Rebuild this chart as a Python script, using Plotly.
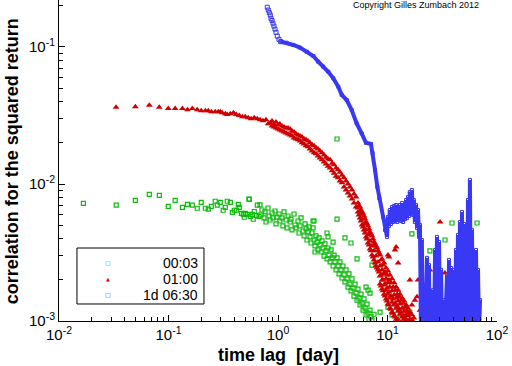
import plotly.graph_objects as go

# ---------------- data (time lag [day], correlation) ----------------
series_names = ["00:03", "01:00", "1d 06:30"]

green_points = [
    (0.0167, 0.00723), (0.0333, 0.0070), (0.0498, 0.0076), (0.0668, 0.0084), (0.0824, 0.00827),
    (0.0995, 0.00687), (0.115, 0.0076), (0.134, 0.00676), (0.149, 0.0071), (0.165, 0.0070),
    (0.183, 0.00665), (0.199, 0.00734), (0.217, 0.00665), (0.231, 0.00655), (0.246, 0.00687),
    (0.267, 0.00748), (0.279, 0.0070), (0.297, 0.00734), (0.316, 0.00643), (0.330, 0.00676),
    (0.344, 0.00748), (0.367, 0.00734), (0.383, 0.00621), (0.399, 0.00643), (0.416, 0.00643),
    (0.434, 0.0071), (0.443, 0.00676), (0.462, 0.0061), (0.482, 0.0060), (0.492, 0.00572),
    (0.502, 0.0061), (0.524, 0.0060), (0.547, 0.00773), (0.558, 0.0058), (0.582, 0.0060),
    (0.594, 0.00553), (0.607, 0.0063), (0.634, 0.0059), (0.647, 0.0070), (0.670, 0.0058),
    (0.685, 0.00703), (0.700, 0.00594), (0.714, 0.00646), (0.745, 0.00565), (0.761, 0.00625),
    (0.777, 0.00528), (0.810, 0.00668), (0.828, 0.00584), (0.845, 0.00546), (0.882, 0.00614),
    (0.900, 0.00565), (0.939, 0.00635), (0.959, 0.00511), (0.979, 0.00574), (1.021, 0.00604),
    (1.04, 0.00537), (1.088, 0.00565), (1.11, 0.00494), (1.135, 0.00625), (1.184, 0.00546),
    (1.209, 0.00478), (1.235, 0.00584), (1.29, 0.00528), (1.315, 0.00555), (1.343, 0.00462),
    (1.401, 0.00604), (1.43, 0.00502), (1.461, 0.00478), (1.524, 0.00537), (1.556, 0.00439),
    (1.59, 0.00494), (1.623, 0.00565), (1.693, 0.00454), (1.729, 0.00418), (1.765, 0.00511),
    (1.803, 0.00470), (1.841, 0.00390), (1.881, 0.00447), (1.921, 0.00486), (1.96, 0.00411),
    (2.003, 0.00371), (2.046, 0.00439), (2.09, 0.00478), (2.134, 0.00390), (2.177, 0.00353),
    (2.225, 0.00418), (2.272, 0.00377), (2.32, 0.00330), (2.37, 0.00404), (2.42, 0.00359),
    (2.472, 0.00319), (2.524, 0.00384), (2.578, 0.00341), (2.633, 0.00298), (2.687, 0.00365),
    (2.746, 0.00325), (2.805, 0.00284), (2.864, 0.00341), (2.925, 0.00303), (2.99, 0.00270),
    (3.053, 0.00330), (3.118, 0.00289), (3.184, 0.00252), (3.252, 0.00303), (3.315, 0.00270),
    (3.39, 0.00236), (3.46, 0.00289), (3.54, 0.00252), (3.61, 0.00221), (3.68, 0.00270),
    (3.76, 0.00236), (3.84, 0.00206), (3.92, 0.00252), (4.01, 0.00217), (4.09, 0.00193),
    (4.18, 0.00236), (4.27, 0.00203), (4.36, 0.00177), (4.45, 0.00221), (4.54, 0.00186),
    (4.64, 0.00166), (4.74, 0.00203), (4.84, 0.00174), (4.94, 0.00152), (5.05, 0.00186),
    (5.16, 0.00160), (5.27, 0.00142), (5.38, 0.00171), (5.49, 0.00147), (5.61, 0.00131),
    (5.73, 0.00157), (5.85, 0.00135), (5.98, 0.00120), (6.10, 0.00145), (6.23, 0.00124),
    (6.37, 0.00111), (6.50, 0.00133), (6.64, 0.00114), (6.78, 0.00103), (6.92, 0.00120),
    (7.07, 0.00107), (7.22, 0.00102), (7.53, 0.00112),
    (0.543, 0.00777), (3.46, 0.00555), (2.134, 0.00537), (4.09, 0.00404), (4.64, 0.00371),
    (5.27, 0.00284), (6.37, 0.00177), (6.64, 0.00168), (7.22, 0.00256), (6.92, 0.0016),
    (16.7, 0.00432), (24.4, 0.00325), (33.5, 0.0039), (38.8, 0.00519), (65.7, 0.00519),
    (8.55, 0.00116), (10.1, 0.00126), (11.0, 0.00111), (3.46, 0.0213), (13.0, 0.00105),
    (16.0, 0.00116), (22.0, 0.00109), (30.2, 0.00142), (41.3, 0.00105), (54.3, 0.00131),
    (59.1, 0.00105), (27.7, 0.00105), (2.805, 0.00439), (2.864, 0.00411), (2.177, 0.00319),
    (2.09, 0.00537), (3.184, 0.00377),
]

red_points = [
    (0.0332, 0.0363), (0.0498, 0.0366), (0.0668, 0.0375), (0.0824, 0.0363), (0.0995, 0.0355),
    (0.115, 0.0355), (0.134, 0.0355), (0.149, 0.0348), (0.165, 0.0355), (0.183, 0.0348),
    (0.199, 0.0343), (0.217, 0.0343), (0.231, 0.0343), (0.246, 0.0337), (0.267, 0.0337),
    (0.285, 0.0337), (0.297, 0.0337), (0.309, 0.0331), (0.330, 0.0326), (0.344, 0.0321),
    (0.367, 0.0326), (0.392, 0.0331), (0.416, 0.0321), (0.443, 0.0316), (0.473, 0.0310),
    (0.502, 0.0310), (0.534, 0.0305), (0.568, 0.0300), (0.607, 0.0305), (0.647, 0.0300),
    (0.686, 0.0295), (0.730, 0.0290), (0.777, 0.0295), (0.814, 0.0275), (0.852, 0.0280),
    (0.882, 0.0288), (0.882, 0.0265), (0.919, 0.0274), (0.919, 0.0261), (0.959, 0.0283),
    (0.959, 0.0256), (1.000, 0.0270), (1.000, 0.0252), (1.04, 0.0274), (1.04, 0.0248),
    (1.088, 0.0265), (1.088, 0.0244), (1.135, 0.0261), (1.135, 0.0240), (1.184, 0.0256),
    (1.184, 0.0236), (1.235, 0.0256), (1.235, 0.0232), (1.29, 0.0252), (1.29, 0.0228),
    (1.343, 0.0244), (1.343, 0.0224), (1.401, 0.0240), (1.401, 0.0217), (1.461, 0.0232),
    (1.461, 0.0213), (1.524, 0.0228), (1.524, 0.0210), (1.59, 0.0224), (1.59, 0.0206),
    (1.658, 0.0220), (1.658, 0.0200), (1.729, 0.0213), (1.729, 0.0196), (1.803, 0.0210),
    (1.803, 0.0190), (1.881, 0.0206), (1.881, 0.0187), (1.96, 0.0200), (1.96, 0.0180),
    (2.046, 0.0193), (2.046, 0.0174), (2.134, 0.0190), (2.134, 0.0169), (2.225, 0.0184),
    (2.225, 0.0166), (2.32, 0.0180), (2.32, 0.0160), (2.42, 0.0174), (2.42, 0.0155),
    (2.524, 0.0169), (2.524, 0.0150), (2.633, 0.0163), (2.633, 0.0145), (2.746, 0.0157),
    (2.746, 0.0140), (2.864, 0.0152), (2.864, 0.0135), (2.99, 0.0150), (2.99, 0.0131),
    (3.118, 0.0142), (3.118, 0.0125), (3.252, 0.0138), (3.252, 0.0120), (3.39, 0.0131),
    (3.39, 0.0114), (3.54, 0.0127), (3.54, 0.0111), (3.68, 0.0122), (3.68, 0.0105),
    (3.84, 0.0116), (3.84, 0.0102), (4.01, 0.0111), (4.01, 0.00951), (4.18, 0.0105),
    (4.18, 0.00904), (4.36, 0.00998), (4.36, 0.00859), (4.54, 0.00951), (4.54, 0.00817),
    (4.74, 0.00904), (4.74, 0.00777), (4.94, 0.00845), (4.94, 0.00726), (5.16, 0.00803),
    (5.16, 0.00680),
    (5.38, 0.00726), (5.38, 0.00668), (5.38, 0.00625), (5.49, 0.00691), (5.49, 0.00594),
    (5.61, 0.00680), (5.61, 0.00614), (5.61, 0.00565), (5.73, 0.00646), (5.73, 0.00537),
    (5.85, 0.00625), (5.85, 0.00555), (5.85, 0.00502), (5.98, 0.00604), (5.98, 0.00486),
    (6.10, 0.00584), (6.10, 0.00511), (6.10, 0.00462), (6.23, 0.00555), (6.23, 0.00439),
    (6.37, 0.00528), (6.37, 0.00462), (6.37, 0.00411), (6.50, 0.00511), (6.50, 0.00397),
    (6.64, 0.00494), (6.64, 0.00425), (6.64, 0.00371), (6.78, 0.00470), (6.78, 0.00359),
    (6.92, 0.00447), (6.92, 0.00384), (6.92, 0.00336), (7.07, 0.00432), (7.07, 0.00325),
    (7.22, 0.00418), (7.22, 0.00353), (7.22, 0.00303), (7.37, 0.00397), (7.37, 0.00293),
    (7.53, 0.00377), (7.53, 0.00325), (7.53, 0.00279), (7.69, 0.00365), (7.69, 0.00265),
    (7.85, 0.00353), (7.85, 0.00298), (7.85, 0.00252), (8.02, 0.00341), (8.02, 0.00244),
    (8.19, 0.00325), (8.19, 0.00270), (8.19, 0.00236), (8.37, 0.00314), (8.37, 0.00228),
    (8.55, 0.00303), (8.55, 0.00252), (8.55, 0.00213), (8.55, 0.00186), (8.73, 0.00279),
    (8.73, 0.00217), (8.73, 0.00180), (8.91, 0.00284), (8.91, 0.00236), (8.91, 0.00199),
    (8.91, 0.00171), (9.10, 0.00256), (9.10, 0.00199), (9.10, 0.00166), (9.30, 0.00265),
    (9.30, 0.00221), (9.30, 0.00183), (9.30, 0.00157), (9.49, 0.00228), (9.49, 0.00186),
    (9.49, 0.00152), (9.70, 0.00244), (9.70, 0.00203), (9.70, 0.00168), (9.70, 0.00145),
    (9.90, 0.00217), (9.90, 0.00174), (9.90, 0.00140), (10.1, 0.00232), (10.1, 0.00190),
    (10.1, 0.00157), (10.1, 0.00133), (10.3, 0.00199), (10.3, 0.00163), (10.3, 0.00131),
    (10.5, 0.00217), (10.5, 0.00177), (10.5, 0.00147), (10.5, 0.00124), (10.75, 0.00190),
    (10.75, 0.00152), (10.75, 0.00122), (11.0, 0.00203), (11.0, 0.00166), (11.0, 0.00137),
    (11.0, 0.00116), (11.25, 0.00177), (11.25, 0.00145), (11.25, 0.00114), (11.5, 0.00190),
    (11.5, 0.00155), (11.5, 0.00131), (11.5, 0.00109), (11.75, 0.00168), (11.75, 0.00135),
    (11.75, 0.00107), (12.0, 0.00177), (12.0, 0.00147), (12.0, 0.00124), (12.0, 0.00103),
    (12.25, 0.00157), (12.25, 0.00128), (12.5, 0.00168), (12.5, 0.00140), (12.5, 0.00118),
    (12.5, 0.00102), (12.75, 0.00150), (12.75, 0.00122), (13.0, 0.00157), (13.0, 0.00133),
    (13.0, 0.00112), (13.3, 0.00142), (13.3, 0.00116), (13.6, 0.00147), (13.6, 0.00124),
    (13.6, 0.00107), (13.9, 0.00135), (13.9, 0.00109), (14.2, 0.00140), (14.2, 0.00118),
    (14.2, 0.00103), (14.5, 0.00126), (14.5, 0.00105), (14.8, 0.00131), (14.8, 0.00112),
    (14.8, 0.00102), (15.1, 0.00118), (15.4, 0.00124), (15.4, 0.00109), (15.7, 0.00112),
    (16.0, 0.00116), (16.0, 0.00103), (16.7, 0.00111), (16.7, 0.00102), (17.4, 0.00105),
    (12.0, 0.00347), (10.3, 0.00293), (12.5, 0.00265), (11.7, 0.0033), (19.0, 0.00199),
    (22.0, 0.00168), (18.6, 0.0015), (30.2, 0.00528), (24.4, 0.00236), (30.2, 0.00107),
    (43.1, 0.00126), (53.2, 0.0015), (56.6, 0.00107), (10.1, 0.00303), (33.5, 0.00224),
    (20.6, 0.0019), (16.0, 0.00199), (16.7, 0.00131), (17.8, 0.00142), (19.8, 0.0012),
    (22.5, 0.00137), (25.5, 0.00111), (35.7, 0.0012), (38.8, 0.00142), (47.9, 0.00111),
    (63.0, 0.00131), (67.1, 0.00105),
]

# 1d 06:30 : first lags (sparse), then the dense part
blue_sparse_points = [
    (0.798, 0.195), (0.815, 0.186), (0.833, 0.178), (0.850, 0.171), (0.863, 0.162),
    (0.882, 0.156), (0.900, 0.149), (0.919, 0.142), (0.939, 0.135), (0.959, 0.128),
    (0.985, 0.120), (1.021, 0.1137), (1.059, 0.1094),
]
# values below 1e-3 (off the axis) are given as 0.0008
blue_points = [
    (1.059, 0.1094), (1.10, 0.1085), (1.20, 0.1075), (1.38, 0.1035), (1.59, 0.0989),
    (1.83, 0.0924), (2.10, 0.0860), (2.33, 0.0781), (2.59, 0.0718), (2.88, 0.0660),
    (3.20, 0.0591), (3.55, 0.0513), (3.82, 0.0447), (4.24, 0.0410), (4.71, 0.0347),
    (5.23, 0.0277), (5.81, 0.0234), (6.36, 0.0200), (7.06, 0.0196), (7.32, 0.0168),
    (7.69, 0.0127), (8.07, 0.00955), (8.42, 0.00787), (9.10, 0.00574), (9.49, 0.00461),
    (9.90, 0.00411), (10.1, 0.00574), (10.3, 0.00494), (10.5, 0.00646), (10.75, 0.00511),
    (11.0, 0.00680), (11.25, 0.00528), (11.5, 0.00691), (11.75, 0.00537), (12.0, 0.00703),
    (12.25, 0.00528), (12.5, 0.00680), (12.75, 0.00546), (13.0, 0.00703), (13.3, 0.00537),
    (13.6, 0.00726), (13.9, 0.00528), (14.2, 0.00680), (14.5, 0.00555), (14.8, 0.00764),
    (15.1, 0.00565), (15.4, 0.00803), (15.7, 0.00584), (16.0, 0.00875), (16.35, 0.00604),
    (16.7, 0.00904), (17.05, 0.00594), (17.4, 0.00764), (17.8, 0.00528), (18.2, 0.00703),
    (18.6, 0.00478), (19.0, 0.00646), (19.4, 0.00411), (19.8, 0.00502), (20.2, 0.0008),
    (20.6, 0.0039), (21.05, 0.0008), (21.5, 0.00168), (22.0, 0.0008), (22.5, 0.00142),
    (22.95, 0.00289), (23.4, 0.0008), (23.9, 0.00256), (24.4, 0.0008), (24.95, 0.0008),
    (26.05, 0.00168), (26.6, 0.0008), (27.2, 0.0033), (27.7, 0.0008), (28.3, 0.00411),
    (28.9, 0.0008), (29.55, 0.00377), (30.2, 0.0008), (30.85, 0.00236), (31.5, 0.0008),
    (32.8, 0.00142), (33.5, 0.0008), (34.95, 0.00217), (35.7, 0.0008), (36.45, 0.00279),
    (37.2, 0.0008), (38.0, 0.00244), (38.8, 0.0008), (40.5, 0.00236), (41.3, 0.0008),
    (42.2, 0.0033), (43.1, 0.0008), (44.0, 0.00425), (44.95, 0.0008), (45.9, 0.00528),
    (46.9, 0.0008), (47.9, 0.00625), (48.9, 0.0008), (49.9, 0.00511), (51.0, 0.0008),
    (52.1, 0.0033), (53.2, 0.0008), (54.3, 0.00764), (55.45, 0.0008), (56.6, 0.0107),
    (57.85, 0.0008), (59.1, 0.00462), (60.35, 0.0008), (61.6, 0.00303), (63.0, 0.0008),
    (64.3, 0.0033), (65.7, 0.0008), (67.1, 0.00236), (68.55, 0.0008), (70.0, 0.00142),
]

x_tick_vals = [0.01, 0.1, 1, 10, 100]
x_tick_text = ["10<sup>-2</sup>", "10<sup>-1</sup>", "10<sup>0</sup>", "10<sup>1</sup>", "10<sup>2</sup>"]
y_tick_vals = [0.001, 0.01, 0.1]
y_tick_text = ["10<sup>-3</sup>", "10<sup>-2</sup>", "10<sup>-1</sup>"]

GREEN = "#0cbc0c"
RED = "#d00000"
BLUE = "#3838f5"
FONT = "Liberation Sans, Arial, sans-serif"
NB = "\u00a0"


def xs(pts):
    return [p[0] for p in pts]


def ys(pts):
    return [p[1] for p in pts]


fig = go.Figure()
fig.add_trace(go.Scatter(
    x=xs(green_points), y=ys(green_points), mode="markers", name=series_names[0],
    marker=dict(symbol="square-open", size=4, color=GREEN, line=dict(width=1.2, color=GREEN)),
))
fig.add_trace(go.Scatter(
    x=xs(red_points), y=ys(red_points), mode="markers", name=series_names[1],
    marker=dict(symbol="triangle-up", size=6, color=RED, line=dict(width=0)),
))
fig.add_trace(go.Scatter(
    x=xs(blue_points), y=ys(blue_points), mode="lines+markers", name=series_names[2],
    line=dict(color=BLUE, width=4),
    marker=dict(symbol="square-open", size=3, color=BLUE),
))
fig.add_trace(go.Scatter(
    x=xs(blue_sparse_points), y=ys(blue_sparse_points), mode="markers", name=series_names[2],
    marker=dict(symbol="square-open", size=4, color=BLUE, line=dict(width=1, color=BLUE)),
))

minor_x = [m * 10 ** e for e in range(-2, 2) for m in range(2, 10)]
minor_y = [m * 10 ** e for e in range(-3, 0) for m in range(2, 10)]

fig.update_xaxes(
    type="log", range=[-2, 2], showgrid=False, zeroline=False,
    showline=True, linecolor="black", linewidth=1, mirror=False,
    tickmode="array", tickvals=x_tick_vals, ticktext=x_tick_text,
    ticks="inside", ticklen=6, tickcolor="black",
    tickfont=dict(family=FONT, size=15, color="black"),
    minor=dict(tickmode="array", tickvals=minor_x, ticks="inside", ticklen=4, tickcolor="black", showgrid=False),
)
fig.update_yaxes(
    type="log", range=[-3, -0.657], showgrid=False, zeroline=False,
    showline=True, linecolor="black", linewidth=1, mirror=False,
    tickmode="array", tickvals=y_tick_vals, ticktext=y_tick_text,
    ticks="inside", ticklen=6, tickcolor="black",
    tickfont=dict(family=FONT, size=15, color="black"),
    minor=dict(tickmode="array", tickvals=minor_y, ticks="inside", ticklen=4, tickcolor="black", showgrid=False),
)

# hand-drawn legend box (paper coordinates)
legend_x0, legend_x1, legend_y0, legend_y1 = 0.041, 0.331, 0.053, 0.2274
legend_rows = [0.1807, 0.1308, 0.0810]
legend_symbols = ["\u25a1", "\u25b2", "\u25a1"]
legend_colors = [GREEN, RED, BLUE]
legend_sizes = [6, 5, 6]

annotations = [
    dict(text="<b>time lag" + NB + " [day]</b>", xref="paper", yref="paper",
         x=0.5, y=-0.106, xanchor="center", yanchor="middle", showarrow=False,
         font=dict(family=FONT, size=18, color="black")),
    dict(text="<b>correlation for the squared return</b>", xref="paper", yref="paper",
         x=-0.107, y=0.498, xanchor="center", yanchor="middle", showarrow=False, textangle=-90,
         font=dict(family=FONT, size=18, color="black")),
    dict(text="Copyright Gilles Zumbach 2012", xref="paper", yref="paper",
         x=0.9635, y=0.984, xanchor="right", yanchor="middle", showarrow=False,
         font=dict(family=FONT, size=9, color="black")),
]
for name, row, sym, col, sz in zip(series_names, legend_rows, legend_symbols, legend_colors, legend_sizes):
    annotations.append(dict(text=name, xref="paper", yref="paper", x=0.3219, y=row,
                            xanchor="right", yanchor="middle", showarrow=False,
                            font=dict(family=FONT, size=14, color="black")))
    annotations.append(dict(text=sym, xref="paper", yref="paper", x=0.1119, y=row,
                            xanchor="center", yanchor="middle", showarrow=False,
                            font=dict(family="DejaVu Sans", size=sz, color=col)))

fig.update_layout(
    width=512, height=366,
    margin=dict(l=59, r=15, t=0, b=45),
    paper_bgcolor="white", plot_bgcolor="white",
    font=dict(family=FONT, color="black"),
    showlegend=False,
    shapes=[dict(type="rect", xref="paper", yref="paper",
                 x0=legend_x0, x1=legend_x1, y0=legend_y0, y1=legend_y1,
                 line=dict(color="black", width=1), fillcolor="white", layer="above")],
    annotations=annotations,
)

fig.write_html("out.html", config={"displayModeBar": False},
               post_script="document.body.style.margin='0';document.body.style.overflow='hidden';")
